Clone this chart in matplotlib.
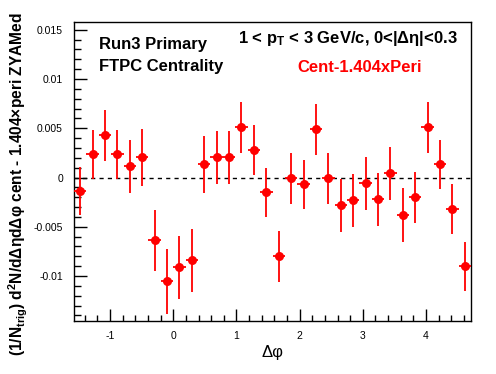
import numpy as np
import matplotlib
matplotlib.use("Agg")
from matplotlib import pyplot as plt
from matplotlib.ticker import MultipleLocator

# 32 bins in delta phi, from -pi/2 to 3pi/2
n_bins = 32
dphi_edges = np.linspace(-np.pi / 2, 3 * np.pi / 2, n_bins + 1)
dphi = 0.5 * (dphi_edges[:-1] + dphi_edges[1:])
dphi_halfwidth = 0.5 * (dphi_edges[1:] - dphi_edges[:-1])

# cent - 1.404 x peri, ZYAM subtracted
signal = [
    -0.00137, 0.00235, 0.00428, 0.00235, 0.00114, 0.00205, -0.00638, -0.01054,
    -0.00912, -0.00840, 0.00134, 0.00205, 0.00205, 0.00510, 0.00279, -0.00150,
    -0.00800, -0.00008, -0.00069, 0.00490, -0.00010, -0.00282, -0.00232, -0.00059,
    -0.00220, 0.00043, -0.00380, -0.00200, 0.00510, 0.00134, -0.00320, -0.00900,
]
signal_err = [
    0.0024, 0.0025, 0.0026, 0.0025, 0.0027, 0.0029, 0.0031, 0.0033,
    0.0032, 0.0032, 0.0029, 0.0027, 0.0027, 0.0026, 0.0025, 0.0025,
    0.0026, 0.0026, 0.0025, 0.0026, 0.0026, 0.0027, 0.0027, 0.0027,
    0.0027, 0.0027, 0.0027, 0.0026, 0.0026, 0.0025, 0.0025, 0.0025,
]

plt.rcParams["font.family"] = ["Liberation Sans", "DejaVu Sans"]
plt.rcParams["mathtext.fontset"] = "custom"
plt.rcParams["mathtext.rm"] = "Liberation Sans:bold"
plt.rcParams["mathtext.it"] = "Liberation Sans:bold"
plt.rcParams["mathtext.bf"] = "Liberation Sans:bold"

fig = plt.figure(figsize=(4.96, 3.74), dpi=100)
ax = fig.add_axes([74 / 496, 1 - 321 / 374, 397 / 496, 299 / 374])

ax.errorbar(dphi, signal, yerr=signal_err, xerr=dphi_halfwidth, fmt="o",
            color="#ff0000", ms=6.5, mew=0, elinewidth=1.3, capsize=0, zorder=3)
ax.axhline(0, color="black", ls=(0, (3, 3)), lw=1.0, zorder=2)

ax.set_xlim(-np.pi / 2, 3 * np.pi / 2)
ax.set_ylim(-0.01457, 0.01579)

ax.xaxis.set_major_locator(MultipleLocator(1))
ax.xaxis.set_minor_locator(MultipleLocator(0.2))
ax.yaxis.set_major_locator(MultipleLocator(0.005))
ax.yaxis.set_minor_locator(MultipleLocator(0.001))
ax.set_yticks([-0.01, -0.005, 0, 0.005, 0.01, 0.015])
ax.set_yticklabels(["-0.01", "-0.005", "0", "0.005", "0.01", "0.015"])
ax.set_xticks([-1, 0, 1, 2, 3, 4])
ax.set_xticklabels(["-1", "0", "1", "2", "3", "4"])

ax.tick_params(which="both", direction="in", top=False, right=False,
               labelsize=7.5, width=1.0)
ax.tick_params(axis="y", which="major", length=9, pad=8)
ax.tick_params(axis="y", which="minor", length=5)
ax.tick_params(axis="x", which="major", length=9, pad=7)
ax.tick_params(axis="x", which="minor", length=4.5)
for spine in ax.spines.values():
    spine.set_linewidth(1.0)

ax.set_xlabel("Δφ", fontsize=12, labelpad=3)

# slightly smaller than the title texts so the whole label stays on the canvas
fig.text(18 / 496, 1 - 356 / 374,
         r"(1/N$_{trig}$) d$^{2}$N/dΔηdΔφ cent - 1.404×peri ZYAMed",
         rotation=90, ha="center", va="bottom", fontsize=11.2, fontweight="bold")

fig.text(99 / 496, 1 - 44 / 374, "Run3 Primary", fontsize=12,
         fontweight="bold", va="center", ha="left")
fig.text(99 / 496, 1 - 66 / 374, "FTPC Centrality", fontsize=12,
         fontweight="bold", va="center", ha="left")
fig.text(238 / 496, 1 - 38 / 374, r"1 < p$_{T}$ < 3 GeV/c, 0<|Δη|<0.3",
         fontsize=12, fontweight="bold", va="center", ha="left")
fig.text(297 / 496, 1 - 68 / 374, "Cent-1.404xPeri", fontsize=12,
         fontweight="bold", color="#ff0000", va="center", ha="left")

fig.savefig("out.png", dpi=100)
